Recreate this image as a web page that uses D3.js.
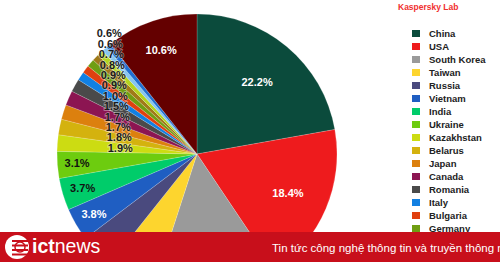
<!DOCTYPE html>
<html>
<head>
<meta charset="utf-8">
<script src="https://cdn.jsdelivr.net/npm/d3@7"></script>
<style>
  body { margin: 0; background: #fff; }
  svg { display: block; font-family: "Liberation Sans", Arial, sans-serif; }
</style>
</head>
<body>
<div id="chart"></div>
<script>
// --- Data (share of attacks, %) ---
const countries = ["China", "USA", "South Korea", "Taiwan", "Russia", "Vietnam", "India", "Ukraine",
  "Kazakhstan", "Belarus", "Japan", "Canada", "Romania", "Italy", "Bulgaria", "Germany",
  "Netherlands", "France", "Brazil", "Poland", "Other"];
const shares = [22.2, 18.4, 14.4, 5.7, 4.0, 3.8, 3.7, 3.1,
  1.9, 1.8, 1.7, 1.7, 1.5, 1.0, 0.9, 0.9,
  0.8, 0.7, 0.6, 0.6, 10.6];
const colors = ["#0b4b3c", "#ee1b1d", "#9a9a9a", "#fdd52e", "#4a4a7e", "#1f5ec2", "#00cc6a", "#6dcc0f",
  "#ccdc12", "#d4b20e", "#dc800e", "#8c1552", "#4a4a4a", "#1280e2", "#e0400f", "#6f9e12",
  "#a07a18", "#b4d420", "#86c6f0", "#2070d2", "#640000"];
const whiteLabels = ["China", "USA", "Vietnam", "Other"];

const data = countries.map((c, i) => ({ country: c, value: shares[i], color: colors[i] }));

// --- Dimensions ---
const W = 500, H = 262;
const cx = 197, cy = 154, R = 140;
const bannerTop = 232;

const svg = d3.select("#chart").append("svg")
  .attr("width", W).attr("height", H);

// --- Pie ---
const pie = d3.pie().sort(null).value(d => d.value);
const arcs = pie(data);
const arc = d3.arc().innerRadius(0).outerRadius(R);
const smallArc = d3.arc().innerRadius(R * 0.55).outerRadius(R * 0.55);
// bigger slices get their label a bit further in
const labelPos = d => {
  const r = R * (0.89 - d.data.value / 100);
  return d3.arc().innerRadius(r).outerRadius(r).centroid(d);
};

const g = svg.append("g").attr("transform", `translate(${cx},${cy})`);

g.selectAll("path")
  .data(arcs)
  .join("path")
  .attr("d", arc)
  .attr("fill", d => d.data.color)
  .attr("stroke", "rgba(255,255,255,0.35)")
  .attr("stroke-width", 0.5);

// big labels sit on the slice, small ones are stacked up the left side
// (labels that would fall under the banner are left out)
const big = arcs.filter(d => d.data.value >= 2 && labelPos(d)[1] + cy < bannerTop - 6);
const small = arcs.filter(d => d.data.value < 2);

g.selectAll("text.big")
  .data(big)
  .join("text")
  .attr("class", "big")
  .attr("transform", d => `translate(${labelPos(d)})`)
  .attr("text-anchor", "middle")
  .attr("dy", "0.35em")
  .style("font-size", "11px")
  .style("font-weight", "bold")
  .style("fill", d => whiteLabels.includes(d.data.country) ? "#fff" : "#111")
  .text(d => d3.format(".1f")(d.data.value) + "%");

const y0 = smallArc.centroid(small[0])[1];
const x0 = smallArc.centroid(small[0])[0];
g.selectAll("text.small")
  .data(small)
  .join("text")
  .attr("class", "small")
  .attr("x", (d, i) => x0 - i * 1.0)
  .attr("y", (d, i) => y0 - i * 10.4)
  .attr("text-anchor", "middle")
  .attr("dy", "0.35em")
  .style("font-size", "11px")
  .style("font-weight", "bold")
  .style("fill", "#1a1a1a")
  .style("stroke", "rgba(255,255,255,0.45)")
  .style("stroke-width", 1.5)
  .style("paint-order", "stroke")
  .text(d => d3.format(".1f")(d.data.value) + "%");

// --- Title ---
svg.append("text")
  .attr("x", 398).attr("y", 10)
  .style("font-size", "8.5px")
  .style("font-weight", "bold")
  .style("fill", "#f0302f")
  .text("Kaspersky Lab");

// --- Legend (rows past the banner are not visible) ---
const legendRows = data.filter((d, i) => 30 + i * 13 < bannerTop);
const legend = svg.append("g").attr("transform", "translate(412, 30)");
const rows = legend.selectAll("g")
  .data(legendRows)
  .join("g")
  .attr("transform", (d, i) => `translate(0, ${i * 13})`);
rows.append("rect")
  .attr("width", 8).attr("height", 7)
  .attr("fill", d => d.color);
rows.append("text")
  .attr("x", 17).attr("y", 7)
  .style("font-size", "9.5px")
  .style("font-weight", "bold")
  .style("fill", "#222")
  .text(d => d.country);

// --- Banner ---
const banner = svg.append("g").attr("transform", `translate(0, ${bannerTop})`);
banner.append("rect").attr("width", W).attr("height", H - bannerTop).attr("fill", "#c80f1b");

const logo = banner.append("g").attr("transform", "translate(17, 15)");
logo.append("circle").attr("r", 12).attr("fill", "#fff");
[-7, -2.5, 2, 6.5].forEach(y => {
  logo.append("rect").attr("x", -5).attr("y", y).attr("width", 16).attr("height", 2).attr("fill", "#c80f1b");
});
logo.append("circle").attr("cx", 3).attr("r", 5).attr("fill", "none").attr("stroke", "#c80f1b").attr("stroke-width", 1.5);

banner.append("text")
  .attr("x", 32).attr("y", 21)
  .style("font-size", "19.5px")
  .style("fill", "#fff")
  .html('<tspan style="font-weight:bold">ict</tspan><tspan style="font-weight:normal">news</tspan>');

banner.append("text")
  .attr("x", 272).attr("y", 20)
  .style("font-size", "11.5px")
  .style("fill", "#fff")
  .text("Tin tức công nghệ thông tin và truyền thông n");
</script>
</body>
</html>
